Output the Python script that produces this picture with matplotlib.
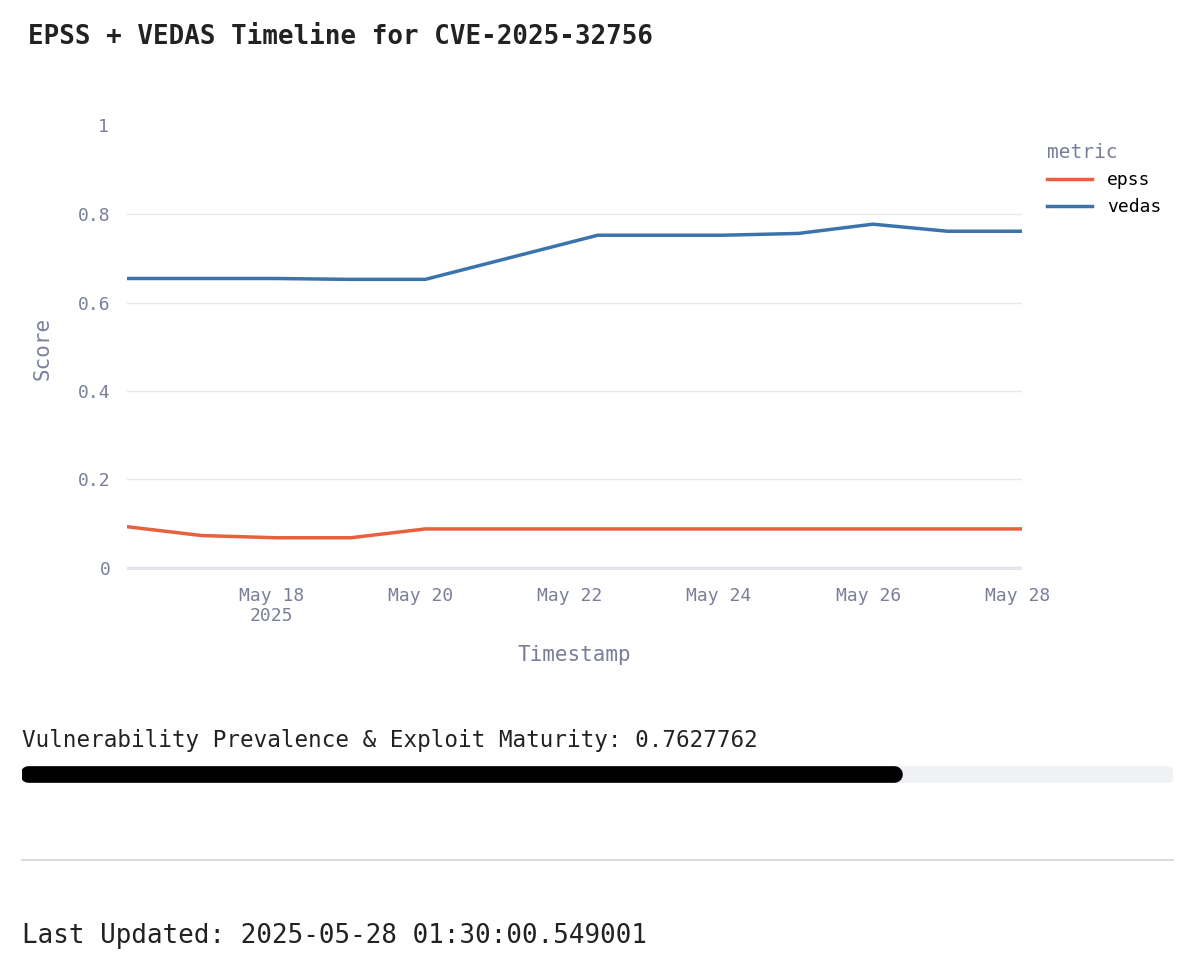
import numpy as np
import pandas as pd
import matplotlib.pyplot as plt
import matplotlib.dates as mdates

plt.rcParams['font.family'] = ['DejaVu Sans Mono']

dates = pd.to_datetime(['2025-05-16 01:30', '2025-05-17 01:30', '2025-05-18 01:30', '2025-05-19 01:30',
                        '2025-05-20 01:30', '2025-05-22 09:00', '2025-05-24 01:30', '2025-05-25 01:30',
                        '2025-05-26 01:30', '2025-05-27 01:30', '2025-05-28 01:30'])
epss = [0.093, 0.073, 0.068, 0.068, 0.088, 0.088, 0.088, 0.088, 0.088, 0.088, 0.088]
vedas = [0.655, 0.655, 0.655, 0.653, 0.653, 0.753, 0.753, 0.757, 0.778, 0.762, 0.762]
maturity = 0.7627762
updated = '2025-05-28 01:30:00.549001'

W, H = 1200, 958
fig = plt.figure(figsize=(12, 9.58), dpi=100)
grey = '#7a7f99'

def box(l, t, r, b):
    return [l / W, 1 - b / H, (r - l) / W, (b - t) / H]

ax = fig.add_axes(box(127, 127, 1022, 570))
ax.plot(dates, epss, color='#e8603c', lw=2.5, label='epss')
ax.plot(dates, vedas, color='#3b73ad', lw=2.5, label='vedas')
ax.set_ylim(-0.005, 0.998)
ax.set_xlim(pd.Timestamp('2025-05-16 01:30'), pd.Timestamp('2025-05-28 01:30'))
ax.set_yticks([0, 0.2, 0.4, 0.6, 0.8])
ax.set_yticklabels(['0', '0.2', '0.4', '0.6', '0.8'])
ax.text(-0.02, 1.0, '1', transform=ax.transAxes, ha='right', va='center', color=grey, fontsize=13)
ticks = pd.to_datetime(['2025-05-18', '2025-05-20', '2025-05-22', '2025-05-24', '2025-05-26', '2025-05-28'])
ax.set_xticks(ticks)
ax.set_xticklabels(['May 18\n2025', 'May 20', 'May 22', 'May 24', 'May 26', 'May 28'])
ax.grid(axis='y', color='#e6e8ee', lw=1)
ax.axhline(0, color='#e0e2ea', lw=2.5, zorder=0)
for s in ax.spines.values():
    s.set_visible(False)
ax.tick_params(length=0, colors=grey, labelsize=13, pad=12)
ax.set_xlabel('Timestamp', color=grey, fontsize=15, labelpad=14)
ax.set_ylabel('Score', color=grey, fontsize=15, labelpad=18)
leg = ax.legend(loc='upper left', bbox_to_anchor=(1.01, 1.0), frameon=False, title='metric',
                fontsize=13, title_fontsize=14, handlelength=2.5)
leg._legend_box.align = 'left'
leg.get_title().set_color(grey)

fig.text(28 / W, 1 - 37 / H, 'EPSS + VEDAS Timeline for CVE-2025-32756', fontsize=18.6,
         fontweight='bold', va='center', color='#222')

bar = fig.add_axes(box(22, 764, 1173, 784))
bar.set_xlim(0, 1)
bar.set_ylim(0, 1)
bar.axis('off')
bar.plot([0.005, 0.995], [0.5, 0.5], color='#f0f1f4', lw=12, solid_capstyle='round')
bar.plot([0.005, maturity - 0.005], [0.5, 0.5], color='black', lw=12, solid_capstyle='round')
fig.text(22 / W, 1 - 741 / H, f'Vulnerability Prevalence & Exploit Maturity: {maturity}',
         fontsize=16.3, va='center', color='#222')
fig.add_artist(plt.Line2D([22 / W, 1173 / W], [1 - 860 / H] * 2, color='#d3d4d8', lw=1.2))
fig.text(22 / W, 1 - 936 / H, f'Last Updated: {updated}', fontsize=18.6, va='center', color='#222')

fig.savefig('out.png', dpi=100, facecolor='white')
